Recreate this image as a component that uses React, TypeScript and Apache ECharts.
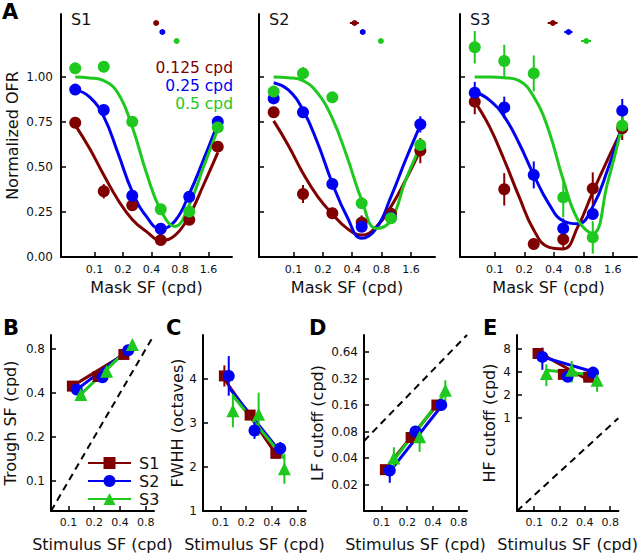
import React, { useEffect, useRef } from "react";
import * as echarts from "echarts";

const RED = "#800000";
const BLUE = "#0000f2";
const GREEN = "#1fc81f";
const INK = "#111111";
const FONT = "DejaVu Sans";

// ---------------- Panel A data ----------------
const maskSF = [0.0625, 0.125, 0.25, 0.5, 1, 2];
const fitSF = [0.0625, 0.0884, 0.125, 0.177, 0.25, 0.354, 0.5, 0.707, 1, 1.414, 2];
const stimLabels = ["0.125 cpd", "0.25 cpd", "0.5 cpd"];
const subjects = ["S1", "S2", "S3"];
const topXTicks = [0.1, 0.2, 0.4, 0.8, 1.6];
const topYTicks = [0, 0.25, 0.5, 0.75, 1];

// S1
const s1Ofr0125 = [0.746, 0.365, 0.287, 0.094, 0.207, 0.613];
const s1Ofr025 = [0.93, 0.817, 0.34, 0.157, 0.335, 0.752];
const s1Ofr05 = [1.048, 1.057, 0.752, 0.265, 0.252, 0.72];
const s1Err0125 = [0.02, 0.04, 0.025, 0.02, 0.02, 0.03];
const s1Err025 = [0.02, 0.02, 0.02, 0.02, 0.02, 0.02];
const s1Err05 = [0.03, 0.03, 0.02, 0.02, 0.02, 0.02];
const s1Fit0125 = [0.733, 0.604, 0.456, 0.317, 0.209, 0.141, 0.092, 0.12, 0.23, 0.4, 0.58];
const s1Fit025 = [0.93, 0.89, 0.78, 0.576, 0.363, 0.224, 0.155, 0.2, 0.35, 0.54, 0.74];
const s1Fit05 = [1.0, 0.995, 0.98, 0.91, 0.724, 0.465, 0.26, 0.17, 0.29, 0.5, 0.71];
// S2
const s2Ofr0125 = [0.804, 0.35, 0.243, 0.191, 0.24, 0.591];
const s2Ofr025 = [0.881, 0.804, 0.406, 0.168, 0.22, 0.737];
const s2Ofr05 = [0.919, 1.02, 0.887, 0.298, 0.215, 0.622];
const s2Err0125 = [0.03, 0.05, 0.03, 0.04, 0.03, 0.07];
const s2Err025 = [0.03, 0.03, 0.02, 0.02, 0.02, 0.045];
const s2Err05 = [0.02, 0.035, 0.02, 0.03, 0.02, 0.03];
const s2Fit0125 = [0.756, 0.62, 0.465, 0.335, 0.239, 0.159, 0.122, 0.168, 0.28, 0.428, 0.594];
const s2Fit025 = [0.968, 0.928, 0.817, 0.632, 0.41, 0.224, 0.104, 0.159, 0.335, 0.54, 0.733];
const s2Fit05 = [1.0, 0.996, 0.98, 0.91, 0.77, 0.557, 0.317, 0.159, 0.205, 0.428, 0.613];
// S3
const s3Ofr0125 = [0.863, 0.376, 0.072, 0.098, 0.38, 0.715];
const s3Ofr025 = [0.913, 0.831, 0.456, 0.159, 0.239, 0.813];
const s3Ofr05 = [1.165, 1.089, 1.02, 0.331, 0.109, 0.73];
const s3Err0125 = [0.07, 0.09, 0.03, 0.05, 0.09, 0.065];
const s3Err025 = [0.06, 0.06, 0.075, 0.055, 0.03, 0.065];
const s3Err05 = [0.09, 0.09, 0.1, 0.11, 0.09, 0.055];
const s3Fit0125 = [0.863, 0.724, 0.539, 0.335, 0.15, 0.055, 0.045, 0.17, 0.36, 0.54, 0.71];
const s3Fit025 = [0.918, 0.872, 0.78, 0.632, 0.456, 0.298, 0.2, 0.185, 0.28, 0.483, 0.733];
const s3Fit05 = [1.0, 1.0, 0.996, 0.98, 0.89, 0.706, 0.428, 0.206, 0.131, 0.41, 0.733];

// trough SF estimates (panel A markers and panel B)
const troughS1 = [0.447, 0.52, 0.736];
const troughS2 = [0.423, 0.513, 0.787];
const troughS3 = [0.392, 0.566, 0.86];
const troughErrS1 = [0.01, 0.012, 0.015];
const troughErrS2 = [0.045, 0.03, 0.03];
const troughErrS3 = [0.045, 0.055, 0.1];
const troughMarkY = [1.3, 1.25, 1.2];

// ---------------- Panels B-E data ----------------
const stimSF = [0.125, 0.25, 0.5];
const subjJitterOct = [-0.17, 0, 0.16];
const botXTicks = [0.1, 0.2, 0.4, 0.8];
const troughYTicks = [0.1, 0.2, 0.4, 0.8];
const fwhhYTicks = [1, 2, 3, 4];
const lfYTicks = [0.02, 0.04, 0.08, 0.16, 0.32, 0.64];
const hfYTicks = [1, 2, 4, 8];

const troughFitS1 = [0.447, 0.736];
const troughFitS2 = [0.423, 0.787];
const troughFitS3 = [0.392, 0.86];

const fwhhS1 = [4.07, 3.18, 2.31];
const fwhhS2 = [4.07, 2.83, 2.42];
const fwhhS3 = [3.28, 3.2, 1.96];
const fwhhErrS1 = [0.24, 0.1, 0.1];
const fwhhErrS2 = [0.45, 0.19, 0.15];
const fwhhErrS3 = [0.38, 0.49, 0.34];
const fwhhFitS1 = [4.0, 2.3];
const fwhhFitS2 = [3.81, 2.34];
const fwhhFitS3 = [3.62, 2.19];

const lfS1 = [0.0295, 0.0684, 0.16];
const lfS2 = [0.0289, 0.08, 0.16];
const lfS3 = [0.04, 0.07, 0.236];
const lfErrS1 = [0.003, 0.005, 0.01];
const lfErrS2 = [0.008, 0.006, 0.01];
const lfErrS3 = [0.013, 0.023, 0.07];
const lfFitS1 = [0.03, 0.16];
const lfFitS2 = [0.028, 0.155];
const lfFitS3 = [0.038, 0.22];

const hfS1 = [6.9, 3.7, 3.4];
const hfS2 = [6.24, 3.45, 3.9];
const hfS3 = [3.8, 4.2, 3.1];
const hfErrS1 = [0.6, 0.3, 0.3];
const hfErrS2 = [2.0, 0.3, 0.3];
const hfErrS3 = [1.2, 1.3, 0.9];
const hfFitS1 = [7.2, 3.1];
const hfFitS2 = [6.24, 4.0];
const hfFitS3 = [4.2, 3.6];

// ---------------- helpers ----------------
const L = (v: number) => Math.log2(v);
const ID = (v: number) => v;
const COLORS = [RED, BLUE, GREEN];
const SYMBOLS = ["rect", "circle", "triangle"];
const SYMSIZE = [11, 12, 13];

function lineS(ax: number, pts: number[][], color: string, smooth: number | boolean, z = 2) {
  return {
    type: "line", xAxisIndex: ax, yAxisIndex: ax, data: pts, smooth, symbol: "none",
    lineStyle: { color, width: 3 }, itemStyle: { color }, silent: true, z, clip: false,
  };
}
function vBars(ax: number, pts: number[][], color: string) {
  return {
    type: "custom", xAxisIndex: ax, yAxisIndex: ax, data: pts, silent: true, z: 3,
    renderItem: (_p: any, api: any) => {
      const a = api.coord([api.value(0), api.value(1)]);
      const b = api.coord([api.value(0), api.value(2)]);
      return { type: "line", shape: { x1: a[0], y1: a[1], x2: b[0], y2: b[1] }, style: { stroke: color, lineWidth: 2 } };
    },
  };
}
function hBars(ax: number, pts: number[][], color: string) {
  return {
    type: "custom", xAxisIndex: ax, yAxisIndex: ax, data: pts, silent: true, z: 3,
    renderItem: (_p: any, api: any) => {
      const a = api.coord([api.value(1), api.value(0)]);
      const b = api.coord([api.value(2), api.value(0)]);
      return { type: "line", shape: { x1: a[0], y1: a[1], x2: b[0], y2: b[1] }, style: { stroke: color, lineWidth: 2 } };
    },
  };
}
function scat(ax: number, pts: number[][], color: string, symbol: string, size: number) {
  return {
    type: "scatter", xAxisIndex: ax, yAxisIndex: ax, data: pts, symbol, symbolSize: size,
    itemStyle: { color, opacity: 1 }, silent: true, z: 4,
  };
}

function tickFmt(ticks: number[], tf: (v: number) => number, fmt: (v: number) => string) {
  return (v: number) => {
    const t = ticks.find((k) => Math.abs(tf(k) - v) < 1e-6);
    return t === undefined ? "" : fmt(t);
  };
}

function axis(
  grid: number, min: number, max: number, ticks: number[], tf: (v: number) => number,
  fmt: (v: number) => string, showLabel: boolean, fontSize: number, margin: number,
  name: string, nameGap: number
) {
  const cv = ticks.map(tf);
  return {
    type: "value", gridIndex: grid, min, max, name, nameLocation: "middle", nameGap,
    nameTextStyle: { fontSize: 16, fontFamily: FONT, color: INK },
    axisLine: { show: true, onZero: false, lineStyle: { color: "#000", width: 2 } },
    axisTick: { show: true, inside: true, length: 5, lineStyle: { color: "#000", width: 1.5 }, customValues: cv },
    axisLabel: {
      show: showLabel, customValues: cv, formatter: tickFmt(ticks, tf, fmt),
      fontSize, fontFamily: FONT, color: INK, margin,
    },
    splitLine: { show: false },
  };
}

const App: React.FC = () => {
  const ref = useRef<HTMLDivElement>(null);
  useEffect(() => {
    document.body.style.margin = "0";
    if (!ref.current) return;
    const chart = echarts.init(ref.current, null, { renderer: "svg" });

    const grids = [
      { left: 61, top: 14, width: 171, height: 243 },
      { left: 259, top: 14, width: 176, height: 243 },
      { left: 460, top: 14, width: 177, height: 243 },
      { left: 51, top: 335, width: 103, height: 176 },
      { left: 203, top: 335, width: 103, height: 176 },
      { left: 364, top: 335, width: 103, height: 176 },
      { left: 517, top: 335, width: 105, height: 176 },
    ];

    const topPanels = [
      { ofr: [s1Ofr0125, s1Ofr025, s1Ofr05], err: [s1Err0125, s1Err025, s1Err05], fit: [s1Fit0125, s1Fit025, s1Fit05], tr: troughS1, trErr: troughErrS1 },
      { ofr: [s2Ofr0125, s2Ofr025, s2Ofr05], err: [s2Err0125, s2Err025, s2Err05], fit: [s2Fit0125, s2Fit025, s2Fit05], tr: troughS2, trErr: troughErrS2 },
      { ofr: [s3Ofr0125, s3Ofr025, s3Ofr05], err: [s3Err0125, s3Err025, s3Err05], fit: [s3Fit0125, s3Fit025, s3Fit05], tr: troughS3, trErr: troughErrS3 },
    ];

    const xAxes: any[] = [];
    const yAxes: any[] = [];
    const series: any[] = [];
    const numFmt = (v: number) => String(v);

    topPanels.forEach((p, pi) => {
      xAxes.push(axis(pi, L(0.0625) - 0.5, L(2) + 0.5, topXTicks, L, numFmt, true, 11, 7, "Mask SF (cpd)", 22));
      yAxes.push(axis(pi, 0, 1.35, topYTicks, ID, (v) => v.toFixed(2), pi === 0, 12, 8, pi === 0 ? "Normalized OFR" : "", 41));
      for (let k = 0; k < 3; k++) {
        const c = COLORS[k];
        series.push(lineS(pi, fitSF.map((x, i) => [L(x), p.fit[k][i]]), c, 0.45));
        series.push(vBars(pi, maskSF.map((x, i) => [L(x), p.ofr[k][i] - p.err[k][i], p.ofr[k][i] + p.err[k][i]]), c));
        series.push(scat(pi, maskSF.map((x, i) => [L(x), p.ofr[k][i]]), c, "circle", 12));
        series.push(hBars(pi, [[troughMarkY[k], L(p.tr[k] - p.trErr[k]), L(p.tr[k] + p.trErr[k])]], c));
        series.push(scat(pi, [[L(p.tr[k]), troughMarkY[k]]], c, "circle", 6));
      }
    });

    const botPanels = [
      { yLog: true, min: -4, max: 0, ticks: troughYTicks, name: "Trough SF (cpd)", gap: 33,
        v: [troughS1, troughS2, troughS3], e: null as any, f: [troughFitS1, troughFitS2, troughFitS3], diag: true },
      { yLog: false, min: 1, max: 5, ticks: fwhhYTicks, name: "FWHH (octaves)", gap: 16,
        v: [fwhhS1, fwhhS2, fwhhS3], e: [fwhhErrS1, fwhhErrS2, fwhhErrS3], f: [fwhhFitS1, fwhhFitS2, fwhhFitS3], diag: false },
      { yLog: true, min: L(0.01), max: 0, ticks: lfYTicks, name: "LF cutoff (cpd)", gap: 39,
        v: [lfS1, lfS2, lfS3], e: [lfErrS1, lfErrS2, lfErrS3], f: [lfFitS1, lfFitS2, lfFitS3], diag: true },
      { yLog: true, min: -4, max: L(12), ticks: hfYTicks, name: "HF cutoff (cpd)", gap: 20,
        v: [hfS1, hfS2, hfS3], e: [hfErrS1, hfErrS2, hfErrS3], f: [hfFitS1, hfFitS2, hfFitS3], diag: true },
    ];

    botPanels.forEach((p, bi) => {
      const ax = 3 + bi;
      const yf = p.yLog ? L : ID;
      xAxes.push(axis(ax, -4, 0, botXTicks, L, numFmt, true, 11, 6, "Stimulus SF (cpd)", 25));
      yAxes.push(axis(ax, p.min, p.max, p.ticks, yf, numFmt, true, 12, 6, p.name, p.gap));
      if (p.diag) {
        series.push({
          type: "line", xAxisIndex: ax, yAxisIndex: ax, data: [[-4, -4], [0, 0]], symbol: "none",
          lineStyle: { color: "#000", width: 2, type: [7, 5] }, silent: true, z: 1,
        });
      }
      for (let s = 0; s < 3; s++) {
        const c = COLORS[s];
        const xs = stimSF.map((x) => L(x) + subjJitterOct[s]);
        series.push(lineS(ax, [[xs[0], yf(p.f[s][0])], [xs[2], yf(p.f[s][1])]], c, false));
        if (p.e) {
          series.push(vBars(ax, xs.map((x, i) => [x, yf(p.v[s][i] - p.e[s][i]), yf(p.v[s][i] + p.e[s][i])]), c));
        }
        series.push(scat(ax, xs.map((x, i) => [x, yf(p.v[s][i])]), c, SYMBOLS[s], SYMSIZE[s]));
      }
    });

    // legend entries for panel B
    subjects.forEach((name, s) => {
      series.push({
        type: "line", name, xAxisIndex: 3, yAxisIndex: 3, data: [], symbol: SYMBOLS[s], symbolSize: SYMSIZE[s],
        lineStyle: { color: COLORS[s], width: 3 }, itemStyle: { color: COLORS[s] },
      });
    });

    const txt = (text: string, x: number, y: number, size: number, fill: string, align = "left", weight = "normal") => ({
      type: "text", x, y, silent: true,
      style: { text, fontSize: size, fontFamily: FONT, fontWeight: weight, fill, align, verticalAlign: "middle" },
    });

    const graphic = [
      txt("A", 2, 12, 21, "#000", "left", "bold"),
      txt("B", 3, 328, 21, "#000", "left", "bold"),
      txt("C", 166, 328, 21, "#000", "left", "bold"),
      txt("D", 309, 328, 21, "#000", "left", "bold"),
      txt("E", 483, 328, 21, "#000", "left", "bold"),
      txt(subjects[0], 71, 19, 16, INK),
      txt(subjects[1], 269, 19, 16, INK),
      txt(subjects[2], 470, 19, 16, INK),
      txt(stimLabels[0], 233, 68, 15.5, RED, "right"),
      txt(stimLabels[1], 233, 86, 15.5, BLUE, "right"),
      txt(stimLabels[2], 233, 104, 15.5, GREEN, "right"),
    ];

    chart.setOption({
      animation: false,
      backgroundColor: "#ffffff",
      textStyle: { fontFamily: FONT },
      grid: grids,
      xAxis: xAxes,
      yAxis: yAxes,
      legend: {
        data: subjects, orient: "vertical", left: 82, top: 450, itemWidth: 43, itemHeight: 15, itemGap: 2,
        selectedMode: false, textStyle: { fontSize: 16, fontFamily: FONT, color: INK, padding: [0, 0, 0, 3] },
      },
      graphic,
      series,
    });
    return () => chart.dispose();
  }, []);
  return <div ref={ref} style={{ width: 640, height: 554 }} />;
};

export default App;
